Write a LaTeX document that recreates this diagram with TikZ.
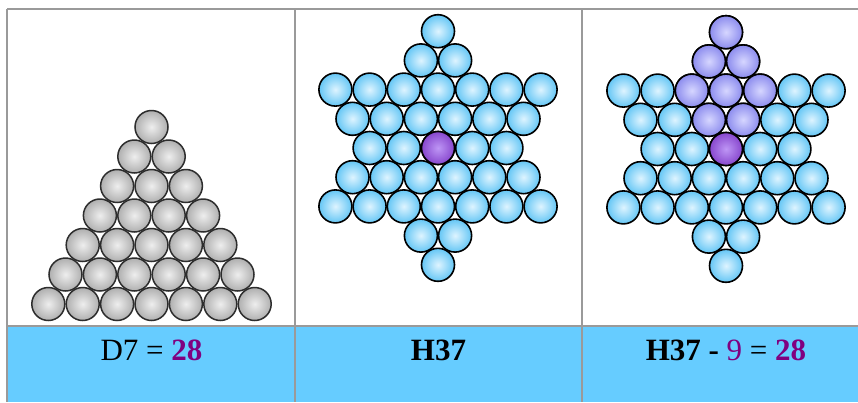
\documentclass[tikz,border=0pt]{standalone}
\usepackage{fontspec}
\setmainfont{Liberation Serif}
\definecolor{cellblue}{HTML}{66CCFF}
\definecolor{gridgray}{HTML}{9A9A9A}
\definecolor{numpurple}{HTML}{800080}
\tikzset{
  ballbase/.style={draw=black, line width=1.6pt, shading=radial},
  blueball/.style={ballbase, inner color={rgb,255:red,222;green,244;blue,255}, outer color={rgb,255:red,100;green,198;blue,245}},
  lavball/.style={ballbase, inner color={rgb,255:red,214;green,214;blue,255}, outer color={rgb,255:red,140;green,140;blue,238}},
  purpball/.style={ballbase, inner color={rgb,255:red,190;green,150;blue,245}, outer color={rgb,255:red,135;green,70;blue,205}},
  greyball/.style={draw={rgb,255:red,45;green,45;blue,45}, line width=1.5pt, shading=radial, inner color={rgb,255:red,238;green,238;blue,238}, outer color={rgb,255:red,175;green,175;blue,175}},
  gridline/.style={draw=gridgray, line width=1.3pt},
  celltext/.style={anchor=base, inner sep=0pt, font=\fontsize{31}{36}\selectfont}
}
\newcommand\starballs[2]{%
  \foreach \r/\xs in {-4/{0},-3/{-0.5,0.5},-2/{-3,-2,-1,0,1,2,3},-1/{-2.5,-1.5,-0.5,0.5,1.5,2.5},0/{-2,-1,0,1,2},1/{-2.5,-1.5,-0.5,0.5,1.5,2.5},2/{-3,-2,-1,0,1,2,3},3/{-0.5,0.5},4/{0}}{%
    \foreach \k in \xs {%
      \shade[blueball] ({#1+\k*34.2},{#2+\r*29.2}) circle[radius=16.5pt];
    }%
  }%
}
\begin{document}
\begin{tikzpicture}[x=1pt,y=-1pt]
\useasboundingbox (0,0) rectangle (858,402);
\fill[white] (0,0) rectangle (858,402);
% blue caption row
\fill[cellblue] (7,326) rectangle (858,402);
% grid
\draw[gridline] (7,9) -- (858,9);
\draw[gridline] (7,9) -- (7,402);
\draw[gridline] (295,9) -- (295,402);
\draw[gridline] (582,9) -- (582,402);
\draw[gridline] (7,326) -- (858,326);
% triangle of grey balls
\foreach \r in {0,...,6}{
  \foreach \k in {0,...,\r}{
    \shade[greyball] ({151.5+(\k-\r/2)*34.4},{127+\r*29.5}) circle[radius=16.5pt];
  }
}
% middle star
\starballs{438}{148}
\shade[purpball] (438,148) circle[radius=16.5pt];
% right star
\starballs{726}{149}
\foreach \kx/\r in {0/-4,-0.5/-3,0.5/-3,-1/-2,0/-2,1/-2,-0.5/-1,0.5/-1}{
  \shade[lavball] ({726+\kx*34.2},{149+\r*29.2}) circle[radius=16.5pt];
}
\shade[purpball] (726,149) circle[radius=16.5pt];
% captions
\node[celltext] (capA) at (151.5,360) {D7 = \textcolor{numpurple}{\textbf{28}}};
\node[celltext] (capB) at (438.5,360) {\textbf{H37}};
\node[celltext] (capC) at (726,360) {\textbf{H37 -} \textcolor{numpurple}{9} = \textcolor{numpurple}{\textbf{28}}};
\end{tikzpicture}
\end{document}
